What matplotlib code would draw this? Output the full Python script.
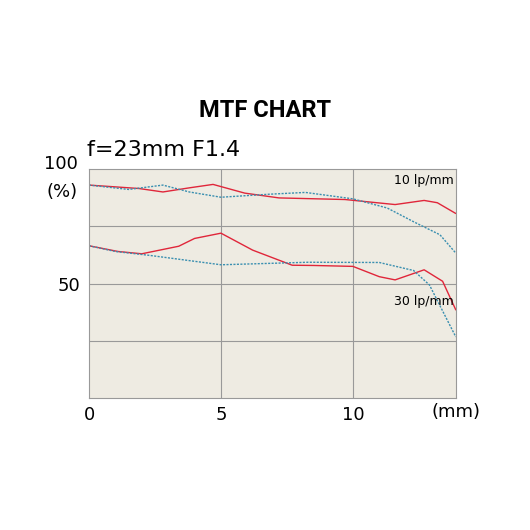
import matplotlib
matplotlib.use("Agg")
import matplotlib.pyplot as plt

r10_x = [0, 0.9, 1.9, 2.8, 3.8, 4.7, 5.9, 7.2, 9.7, 11.6, 12.7, 13.2, 13.9]
r10_y = [93.0, 92.3, 91.5, 90.0, 91.8, 93.3, 89.5, 87.4, 86.7, 84.5, 86.3, 85.3, 80.6]
b10_x = [0, 1.5, 2.8, 3.8, 5.0, 6.8, 8.2, 10.0, 11.3, 12.3, 13.3, 13.9]
b10_y = [93.0, 91.1, 93.0, 90.0, 87.7, 89.0, 89.8, 87.0, 83.0, 77.0, 71.3, 63.3]
r30_x = [0, 1.1, 2.0, 3.4, 4.0, 5.0, 6.2, 7.7, 8.5, 10.0, 11.0, 11.6, 12.7, 13.4, 13.9]
r30_y = [66.5, 64.0, 63.0, 66.3, 69.7, 72.0, 64.6, 58.0, 57.9, 57.5, 53.0, 51.6, 56.0, 51.0, 38.5]
b30_x = [0, 1.0, 2.3, 5.0, 8.3, 11.0, 12.3, 12.9, 13.9]
b30_y = [66.5, 64.0, 62.3, 58.2, 59.3, 59.2, 55.7, 49.4, 26.7]

fig = plt.figure(figsize=(5.3, 5.3), dpi=100)
ax = fig.add_axes([0.168, 0.249, 0.692, 0.432])
ax.set_facecolor("#eeebe2")
kw = dict(solid_capstyle="round", solid_joinstyle="round")
ax.plot(r10_x, r10_y, color="#e0263a", lw=1.0, **kw)
ax.plot(b10_x, b10_y, color="#3a8fb0", lw=1.0, ls=(0, (1.5, 1)))
ax.plot(r30_x, r30_y, color="#e0263a", lw=1.0, **kw)
ax.plot(b30_x, b30_y, color="#3a8fb0", lw=1.0, ls=(0, (1.5, 1)))
ax.set_xlim(0, 13.9)
ax.set_ylim(0, 100)
for v in [5, 10]:
    ax.axvline(v, color="#999999", lw=0.8, zorder=0)
for v in [25, 50, 75]:
    ax.axhline(v, color="#999999", lw=0.8, zorder=0)
for s in ax.spines.values():
    s.set_color("#999999")
    s.set_linewidth(0.8)
ax.set_xticks([0, 5, 10])
ax.set_xticklabels(["0", "5", "10"], fontsize=13)
ax.set_yticks([50])
ax.set_yticklabels(["50"], fontsize=13)
ax.tick_params(length=0, pad=6)
ax.text(-0.03, 102, "100", fontsize=13, ha="right", va="center", transform=ax.get_yaxis_transform())
ax.text(-0.03, 90, "(%)", fontsize=13, ha="right", va="center", transform=ax.get_yaxis_transform())
ax.text(1.0, -0.02, "(mm)", fontsize=13, ha="center", va="top", transform=ax.transAxes)
ax.text(12.7, 95, "10 lp/mm", fontsize=9, ha="center", va="center")
ax.text(12.7, 42, "30 lp/mm", fontsize=9, ha="center", va="center")
fig.text(0.5, 0.792, "MTF CHART", fontsize=17, fontweight="bold", ha="center", va="center", family="Roboto")
fig.text(0.165, 0.717, "f=23mm F1.4", fontsize=16, ha="left", va="center")
fig.savefig("out.png")
